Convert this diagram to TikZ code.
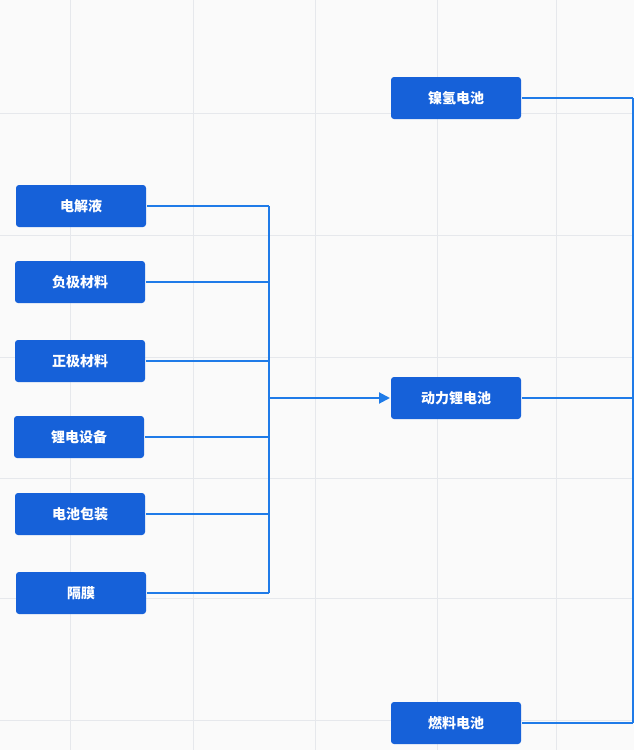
\documentclass[tikz,border=0pt]{standalone}
\usepackage{fontspec}
\newfontfamily\cjk{Noto Sans CJK SC}
\usetikzlibrary{arrows.meta}
\definecolor{boxblue}{HTML}{1661D9}
\definecolor{lineblue}{HTML}{1F7BE8}
\definecolor{gridgray}{HTML}{E6E8EC}
\begin{document}
\begin{tikzpicture}[x=1pt,y=-1pt,draw=lineblue,line width=2pt]
  \tikzstyle{item}=[rectangle,rounded corners=3pt,fill=boxblue,draw=none,text=white,minimum width=130pt,minimum height=42pt,inner sep=0pt,font=\cjk\bfseries\fontsize{14}{14}\selectfont]
  \tikzstyle{grid}=[draw=gridgray,line width=0.8pt]

  % background and grid
  \fill[white!96!gray] (0,0) rectangle (634,750);
  \useasboundingbox (0,0) rectangle (634,750);
  \foreach \gx in {70,193,315,437,556} \draw[grid] (\gx,0) -- (\gx,750);
  \foreach \gy in {113,235,357,478,598,720} \draw[grid] (0,\gy) -- (634,\gy);

  % materials
  \node[item] (m1) at (81,206) {电解液};
  \node[item] (m2) at (80,282) {负极材料};
  \node[item] (m3) at (80,361) {正极材料};
  \node[item] (m4) at (79,437) {锂电设备};
  \node[item] (m5) at (80,514) {电池包装};
  \node[item] (m6) at (81,593) {隔膜};

  % batteries
  \node[item] (b1) at (456,98) {镍氢电池};
  \node[item] (b2) at (456,398) {动力锂电池};
  \node[item] (b3) at (456,723) {燃料电池};

  % bus on the left
  \coordinate (bus) at (269,398);
  \foreach \m in {m1,m2,m3,m4,m5,m6}
    \draw (\m.east) -- (\m.east -| bus);
  \draw (m1.east -| bus) -- (m6.east -| bus);
  \draw[-{Triangle[length=11pt,width=11pt]}] (bus) -- (b2.west);

  % bus on the right
  \coordinate (rbus) at (633,398);
  \foreach \b in {b1,b2,b3}
    \draw (\b.east) -- (\b.east -| rbus);
  \draw (b1.east -| rbus) -- (b3.east -| rbus);
\end{tikzpicture}
\end{document}
